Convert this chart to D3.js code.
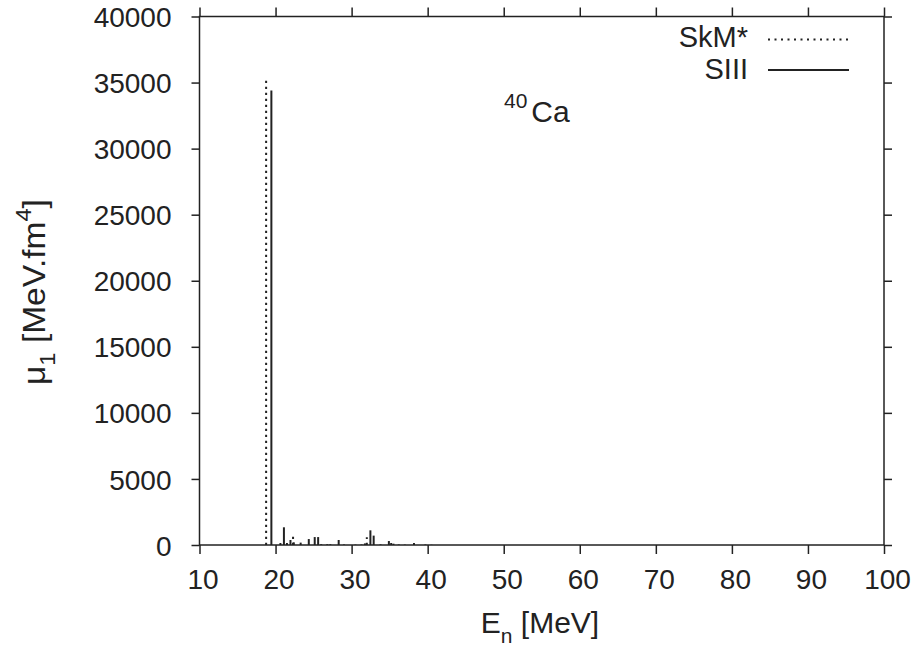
<!DOCTYPE html>
<html>
<head>
<meta charset="utf-8">
<script src="https://cdn.jsdelivr.net/npm/d3@7"></script>
<style>
  html, body { margin: 0; padding: 0; background: #fff; }
  svg text { font-family: "Liberation Sans", Arial, Helvetica, sans-serif; fill: #222; }
</style>
</head>
<body>
<svg id="chart" width="917" height="648"></svg>
<script>
// ---- data ----
const xTicks = [10, 20, 30, 40, 50, 60, 70, 80, 90, 100];
const yTicks = [0, 5000, 10000, 15000, 20000, 25000, 30000, 35000, 40000];

// SkM* (dotted) : excitation energy [MeV], strength mu_1 [MeV.fm^4]
const skmE = [18.76, 22.3, 31.75, 32.0, 35.2, 37.0, 40.5];
const skmV = [35400, 630, 120, 580, 150, 30, 20];

// SIII (solid)
const siiiE = [19.45, 20.64, 21.1, 21.5, 21.96, 22.4, 23.3, 24.37, 25.15, 25.6, 26.0, 26.8, 27.2, 28.3, 29.0, 30.5, 31.3, 32.47, 32.9, 33.8, 34.9, 35.5, 36.2, 38.2, 39.7];
const siiiV = [34400, 150, 1340, 150, 380, 200, 180, 450, 600, 600, 60, 60, 60, 380, 40, 30, 40, 1110, 710, 50, 300, 100, 40, 150, 40];

const seriesNames = ["SkM*", "SIII"];

// ---- drawing ----
const svg = d3.select("#chart");
const ink = "#222";
const x = d3.scaleLinear().domain([10, 100]).range([199.5, 884]);
const y = d3.scaleLinear().domain([0, 40000]).range([545, 16.5]);

// frame
svg.append("rect")
  .attr("x", x(10)).attr("y", y(40000))
  .attr("width", x(100) - x(10)).attr("height", y(0) - y(40000))
  .attr("fill", "none").attr("stroke", ink).attr("stroke-width", 1.5);

// axes (outward ticks on all four sides)
const tickFont = "28px";
const gB = svg.append("g").attr("transform", `translate(0,${y(0)})`)
  .call(d3.axisBottom(x).tickValues(xTicks).tickSize(9).tickPadding(15).tickFormat(d3.format("d")));
const gT = svg.append("g").attr("transform", `translate(0,${y(40000)})`)
  .call(d3.axisTop(x).tickValues(xTicks).tickSize(9).tickFormat(""));
const gL = svg.append("g").attr("transform", `translate(${x(10)},0)`)
  .call(d3.axisLeft(y).tickValues(yTicks).tickSize(8).tickPadding(20).tickFormat(d3.format("d")));
const gR = svg.append("g").attr("transform", `translate(${x(100)},0)`)
  .call(d3.axisRight(y).tickValues(yTicks).tickSize(8).tickFormat(""));
[gB, gT, gL, gR].forEach(g => {
  g.select(".domain").remove();
  g.selectAll(".tick line").attr("stroke", ink).attr("stroke-width", 1.5);
  g.selectAll("text").attr("fill", ink).style("font-size", tickFont)
    .style("font-family", '"Liberation Sans", Arial, sans-serif');
});
gB.selectAll("text").attr("dx", 3);
gL.selectAll("text").attr("dy", "0.36em");

// bars
function drawBars(E, V, dash, w, cls) {
  svg.append("g").attr("class", cls).selectAll("line")
    .data(E.map((e, i) => ({ e, v: V[i] })))
    .join("line")
    .attr("x1", d => x(d.e)).attr("x2", d => x(d.e))
    .attr("y1", y(0)).attr("y2", d => y(d.v))
    .attr("stroke", ink).attr("stroke-width", w)
    .attr("stroke-dasharray", dash);
}
drawBars(skmE, skmV, "2.2,3.8", 2, "skm");
drawBars(siiiE, siiiV, null, 2, "siii");

// legend
const leg = svg.append("g");
leg.append("text").attr("x", 748).attr("y", 47).attr("text-anchor", "end")
  .style("font-size", "29px").text(seriesNames[0]);
leg.append("line").attr("x1", 768).attr("x2", 848).attr("y1", 39.5).attr("y2", 39.5)
  .attr("stroke", ink).attr("stroke-width", 2).attr("stroke-dasharray", "2,4.5");
leg.append("text").attr("x", 748).attr("y", 79).attr("text-anchor", "end")
  .style("font-size", "29px").text(seriesNames[1]);
leg.append("line").attr("x1", 768).attr("x2", 849).attr("y1", 70).attr("y2", 70)
  .attr("stroke", ink).attr("stroke-width", 2);

// nucleus label 40Ca
const ca = svg.append("text").attr("x", 504).attr("y", 122).style("font-size", "30px");
ca.append("tspan").attr("dy", -14).style("font-size", "21px").text("40");
ca.append("tspan").attr("dy", 14).attr("dx", 4).text("Ca");

// x label
const xl = svg.append("text").attr("x", 540).attr("y", 633).attr("text-anchor", "middle")
  .style("font-size", "30px");
xl.append("tspan").text("E");
xl.append("tspan").attr("dy", 10).style("font-size", "21px").text("n");
xl.append("tspan").attr("dy", -10).text(" [MeV]");

// y label
const yl = svg.append("text").attr("transform", "translate(45,292) scale(1,1.08) rotate(-90)")
  .attr("text-anchor", "middle").style("font-size", "31px");
yl.append("tspan").text("μ");
yl.append("tspan").attr("dy", 10).style("font-size", "22px").text("1");
yl.append("tspan").attr("dy", -10).text(" [MeV.fm");
yl.append("tspan").attr("dy", -14).style("font-size", "22px").text("4");
yl.append("tspan").attr("dy", 14).text("]");
</script>
</body>
</html>
